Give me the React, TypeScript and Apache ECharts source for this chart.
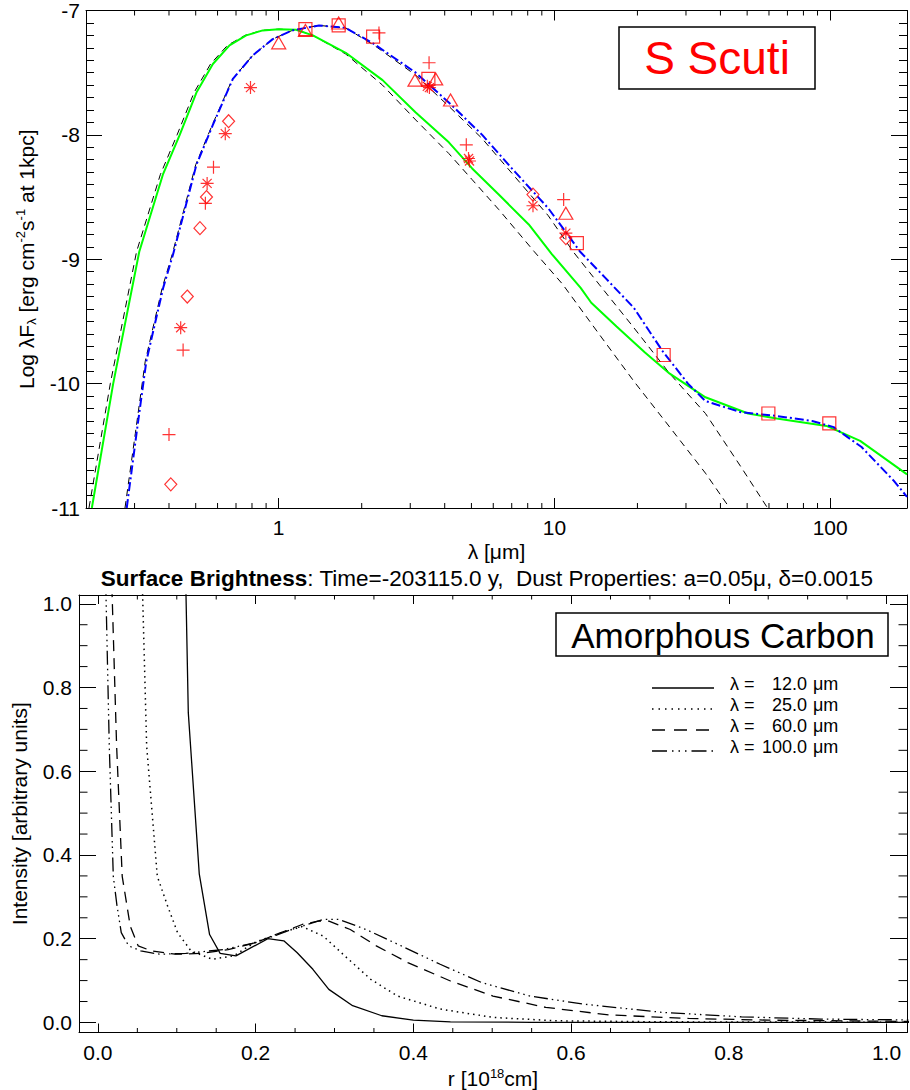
import React, { useEffect, useRef } from 'react';
import * as echarts from 'echarts';

const FONT = '"Liberation Sans", Arial, Helvetica, sans-serif';

// ---------------- Top panel: S Scuti spectral energy distribution ----------------
const sedXMinorTicks = [0.3, 0.4, 0.5, 0.6, 0.7, 0.8, 0.9, 2, 3, 4, 5, 6, 7, 8, 9, 20, 30, 40, 50, 60, 70, 80, 90];

// black dashed model (left, hotter photosphere)
const photosphereA: number[][] = [
  [0.205, -11.0], [0.245, -10.0], [0.305, -8.94], [0.372, -8.32], [0.428, -8.0], [0.493, -7.66],
  [0.566, -7.43], [0.652, -7.28], [0.755, -7.2], [0.87, -7.16], [1.0, -7.15], [1.156, -7.155],
  [1.33, -7.2], [1.75, -7.35], [2.38, -7.6], [3.14, -7.88], [4.14, -8.15], [5.03, -8.36],
  [6.28, -8.6], [8.46, -8.94], [10.7, -9.2], [14.5, -9.6], [19.4, -9.98], [26.2, -10.35],
  [35.3, -10.72], [43.2, -11.0], [50, -11.2],
];
// black dashed model (right, cooler photosphere)
const photosphereB: number[][] = [
  [0.277, -11.0], [0.302, -10.4], [0.328, -9.82], [0.378, -9.23], [0.411, -8.96], [0.5, -8.24],
  [0.574, -7.92], [0.68, -7.55], [0.806, -7.36], [0.951, -7.23], [1.12, -7.16], [1.4, -7.12],
  [1.75, -7.14], [2.22, -7.28], [3.14, -7.52], [4.14, -7.77], [5.47, -8.03], [7.21, -8.34],
  [9.5, -8.65], [11.7, -8.94], [14.5, -9.2], [19.4, -9.55], [26.2, -9.92], [35.3, -10.24],
  [47.5, -10.67], [59.3, -11.0], [70, -11.3],
];
// green solid model (star + dust)
const greenModel: number[][] = [
  [0.21, -11.0], [0.251, -10.0], [0.312, -8.94], [0.38, -8.32], [0.4375, -8.0], [0.503, -7.66],
  [0.577, -7.43], [0.663, -7.28], [0.762, -7.2], [0.875, -7.16], [1.0, -7.15], [1.156, -7.155],
  [1.33, -7.2], [1.75, -7.34], [2.38, -7.56], [3.14, -7.82], [4.14, -8.06], [5.03, -8.27],
  [6.28, -8.48], [8.07, -8.72], [9.8, -8.96], [12.45, -9.23], [13.6, -9.35], [16.8, -9.54],
  [21.3, -9.75], [26.2, -9.92], [35.3, -10.11], [50.4, -10.24], [64, -10.28], [97, -10.34],
  [128.5, -10.46], [190, -10.73],
];
// blue dash-dot model (star + dust)
const blueModel: number[][] = [
  [0.281, -11.0], [0.305, -10.4], [0.331, -9.82], [0.381, -9.23], [0.414, -8.96], [0.503, -8.24],
  [0.577, -7.92], [0.682, -7.55], [0.806, -7.36], [0.951, -7.23], [1.12, -7.16], [1.4, -7.12],
  [1.75, -7.14], [2.22, -7.27], [3.14, -7.5], [4.14, -7.74], [5.47, -8.0], [7.21, -8.3],
  [9.5, -8.59], [12.4, -8.94], [15.3, -9.15], [19.4, -9.39], [24.7, -9.74], [30.5, -10.0],
  [35.3, -10.14], [47.5, -10.23], [64, -10.26], [86, -10.3], [103, -10.35], [130, -10.51],
  [170, -10.78], [190, -10.91],
];

// observed photometry (red symbols)
const obsPlus: number[][] = [
  [2.31, -7.18], [0.58, -8.26], [0.542, -8.55], [0.45, -9.73], [0.4, -10.41],
  [3.51, -7.42], [4.79, -8.08], [10.8, -8.52],
];
const obsAsterisk: number[][] = [
  [0.79, -7.62], [0.64, -7.99], [0.55, -8.39], [0.441, -9.55], [3.46, -7.61], [3.52, -7.62],
  [4.88, -8.19], [4.92, -8.21], [8.36, -8.57], [11.0, -8.79],
];
const obsDiamond: number[][] = [
  [0.658, -7.89], [0.547, -8.5], [0.518, -8.75], [0.466, -9.3], [0.406, -10.81],
  [8.36, -8.48], [11.0, -8.83],
];
const obsTriangle: number[][] = [
  [1.0, -7.26], [1.25, -7.16], [1.65, -7.1], [3.12, -7.56], [3.71, -7.55], [4.2, -7.72], [11.0, -8.63],
];
const obsSquare: number[][] = [
  [1.25, -7.15], [1.65, -7.12], [2.2, -7.21], [3.49, -7.55], [12.06, -8.87], [24.9, -9.77],
  [59.7, -10.24], [99.3, -10.32],
];

// ---------------- Bottom panel: surface brightness profiles ----------------
const radiusMinorTicks = [0.05, 0.1, 0.15, 0.25, 0.3, 0.35, 0.45, 0.5, 0.55, 0.65, 0.7, 0.75, 0.85, 0.9, 0.95];
const intensityMinorTicks = [0.05, 0.1, 0.15, 0.25, 0.3, 0.35, 0.45, 0.5, 0.55, 0.65, 0.7, 0.75, 0.85, 0.9, 0.95];

const profile12: number[][] = [
  [0.1088, 1.3], [0.1146, 0.74], [0.1285, 0.355], [0.1416, 0.21], [0.155, 0.165], [0.175, 0.159],
  [0.2155, 0.2], [0.2357, 0.195], [0.2524, 0.167], [0.2726, 0.127], [0.2928, 0.079], [0.323, 0.04],
  [0.36, 0.016], [0.4, 0.0055], [0.447, 0.0015], [0.55, 0.0004], [1.03, 0.0001],
];
const profile25: number[][] = [
  [0.0527, 1.3], [0.0618, 0.66], [0.0753, 0.349], [0.088, 0.28], [0.101, 0.2145], [0.118, 0.171],
  [0.145, 0.151], [0.172, 0.159], [0.199, 0.191], [0.232, 0.2145], [0.259, 0.229], [0.286, 0.206],
  [0.313, 0.159], [0.346, 0.103], [0.38, 0.063], [0.434, 0.032], [0.501, 0.012], [0.581, 0.004],
  [0.716, 0.0015], [1.03, 0.0005],
];
const profile60: number[][] = [
  [0.0136, 1.3], [0.0237, 0.66], [0.0308, 0.349], [0.041, 0.23], [0.051, 0.183], [0.0678, 0.171],
  [0.098, 0.163], [0.1316, 0.165], [0.165, 0.174], [0.199, 0.19], [0.232, 0.2145], [0.259, 0.234],
  [0.279, 0.242], [0.293, 0.242], [0.32, 0.222], [0.353, 0.183], [0.393, 0.143], [0.447, 0.099],
  [0.501, 0.063], [0.568, 0.036], [0.648, 0.018], [0.749, 0.0095], [0.85, 0.0055], [1.03, 0.0024],
];
const profile100: number[][] = [
  [0.007, 1.3], [0.0144, 0.66], [0.0195, 0.349], [0.0241, 0.28], [0.0296, 0.2145], [0.039, 0.183],
  [0.0543, 0.171], [0.078, 0.163], [0.1114, 0.165], [0.1585, 0.174], [0.199, 0.19], [0.2457, 0.222],
  [0.286, 0.246], [0.306, 0.246], [0.34, 0.222], [0.38, 0.187], [0.434, 0.139], [0.487, 0.095],
  [0.548, 0.063], [0.615, 0.044], [0.716, 0.024], [0.816, 0.0134], [0.917, 0.008], [1.03, 0.006],
];
const legendWavelengths = ['12.0', '25.0', '60.0', '100.0'];

// ---------------- helpers ----------------
const BLACK = '#000';
const tickLine = { color: BLACK, width: 1 };

function minorTickSeries(xIdx: number, yIdx: number, values: number[], dir: 'x' | 'y', ref: number, len: number) {
  return {
    type: 'custom',
    xAxisIndex: xIdx,
    yAxisIndex: yIdx,
    silent: true,
    z: 6,
    data: values.map((v) => (dir === 'x' ? [v, ref] : [ref, v])),
    renderItem: (params: any, api: any) => {
      const cs = params.coordSys;
      const p = api.coord([api.value(0), api.value(1)]);
      const st = { stroke: BLACK, lineWidth: 1 };
      if (dir === 'x') {
        const b = cs.y + cs.height;
        return {
          type: 'group',
          children: [
            { type: 'line', shape: { x1: p[0], y1: b, x2: p[0], y2: b - len }, style: st },
            { type: 'line', shape: { x1: p[0], y1: cs.y, x2: p[0], y2: cs.y + len }, style: st },
          ],
        };
      }
      const r = cs.x + cs.width;
      return {
        type: 'group',
        children: [
          { type: 'line', shape: { x1: cs.x, y1: p[1], x2: cs.x + len, y2: p[1] }, style: st },
          { type: 'line', shape: { x1: r, y1: p[1], x2: r - len, y2: p[1] }, style: st },
        ],
      };
    },
  };
}

const labelStyle = { color: BLACK, fontFamily: FONT, fontSize: 21 };

const isMultiple = (v: number, step: number) => Math.abs(v / step - Math.round(v / step)) < 1e-6;

const PLUS = 'path://M5,0L5,10M0,5L10,5';
const ASTER = 'path://M5,0L5,10M0,5L10,5M1.5,1.5L8.5,8.5M1.5,8.5L8.5,1.5';

function scatter(data: number[][], symbol: string, size: number | number[]) {
  return {
    type: 'scatter',
    xAxisIndex: 0,
    yAxisIndex: 0,
    data,
    symbol,
    symbolSize: size,
    itemStyle: { color: 'rgba(0,0,0,0)', borderColor: '#ff0000', borderWidth: 1.2 },
    z: 4,
  };
}

function line(xIdx: number, yIdx: number, data: number[][], color: string, width: number, type: any) {
  return {
    type: 'line',
    xAxisIndex: xIdx,
    yAxisIndex: yIdx,
    data,
    showSymbol: false,
    symbol: 'none',
    clip: true,
    lineStyle: { color, width, type },
    z: 3,
  };
}

export default function App() {
  const ref = useRef<HTMLDivElement>(null);

  useEffect(() => {
    if (!ref.current) return;
    const chart = echarts.init(ref.current, undefined, { renderer: 'svg' });

    const legendRows = [684, 705, 726, 747];
    const legendDashes: any[] = [null, [1.5, 5], [13, 9], [15, 5, 1.5, 5, 1.5, 5, 1.5, 5]];
    const legendEls: any[] = [];
    legendWavelengths.forEach((w, i) => {
      const y = legendRows[i];
      legendEls.push({
        type: 'line',
        shape: { x1: 652, y1: y + 4, x2: 714, y2: y + 4 },
        style: { stroke: BLACK, lineWidth: 1.3, lineDash: legendDashes[i] },
      });
      legendEls.push({
        type: 'text', x: 730, y,
        style: { text: 'λ =', font: `18px ${FONT}`, fill: BLACK, textAlign: 'left', textVerticalAlign: 'middle' },
      });
      legendEls.push({
        type: 'text', x: 807, y,
        style: { text: w, font: `18px ${FONT}`, fill: BLACK, textAlign: 'right', textVerticalAlign: 'middle' },
      });
      legendEls.push({
        type: 'text', x: 813, y,
        style: { text: 'μm', font: `18px ${FONT}`, fill: BLACK, textAlign: 'left', textVerticalAlign: 'middle' },
      });
    });

    const option: any = {
      animation: false,
      backgroundColor: '#fff',
      grid: [
        { left: 86, top: 8, width: 822, height: 500 },
        { left: 79, top: 595, width: 829, height: 438 },
      ],
      xAxis: [
        {
          type: 'log', logBase: 10, gridIndex: 0, min: 0.2, max: 190, position: 'bottom',
          axisLine: { show: true, onZero: false, lineStyle: tickLine },
          axisTick: { show: true, inside: true, length: 10, lineStyle: tickLine },
          splitLine: { show: false },
          axisLabel: {
            ...labelStyle, margin: 9,
            formatter: (v: number) => {
              const l = Math.log10(v);
              return Math.abs(l - Math.round(l)) < 1e-6 ? String(Math.round(v)) : '';
            },
          },
          name: 'λ [μm]', nameLocation: 'middle', nameGap: 33,
          nameTextStyle: { ...labelStyle },
        },
        {
          type: 'log', logBase: 10, gridIndex: 0, min: 0.2, max: 190, position: 'top',
          axisLine: { show: true, onZero: false, lineStyle: tickLine },
          axisTick: { show: true, inside: true, length: 10, lineStyle: tickLine },
          splitLine: { show: false }, axisLabel: { show: false },
        },
        {
          type: 'value', gridIndex: 1, min: -0.024, max: 1.026, minInterval: 0.2, maxInterval: 0.2, splitNumber: 5,
          position: 'bottom',
          axisLine: { show: true, onZero: false, lineStyle: tickLine },
          axisTick: { show: true, inside: true, length: 9, lineStyle: tickLine },
          splitLine: { show: false },
          axisLabel: {
            ...labelStyle, margin: 9,
            formatter: (v: number) => (isMultiple(v, 0.2) ? (Math.abs(v) < 1e-9 ? 0 : v).toFixed(1) : ''),
          },
          name: '{n|r [10}{sup|18}{n|cm]}', nameLocation: 'middle', nameGap: 34,
          nameTextStyle: {
            ...labelStyle,
            rich: {
              n: { ...labelStyle, lineHeight: 24 },
              sup: { color: BLACK, fontFamily: FONT, fontSize: 13, verticalAlign: 'top' },
            },
          },
        },
        {
          type: 'value', gridIndex: 1, min: -0.024, max: 1.026, minInterval: 0.2, maxInterval: 0.2, splitNumber: 5,
          position: 'top',
          axisLine: { show: true, onZero: false, lineStyle: tickLine },
          axisTick: { show: true, inside: true, length: 9, lineStyle: tickLine },
          splitLine: { show: false }, axisLabel: { show: false },
        },
      ],
      yAxis: [
        {
          type: 'value', gridIndex: 0, min: -11, max: -7, interval: 1, position: 'left',
          axisLine: { show: true, onZero: false, lineStyle: tickLine },
          axisTick: { show: true, inside: true, length: 16, lineStyle: tickLine },
          minorTick: { show: true, splitNumber: 10, length: 8, lineStyle: tickLine },
          splitLine: { show: false }, minorSplitLine: { show: false },
          axisLabel: { ...labelStyle, margin: 6 },
          name: '{n|Log λF}{sub|λ}{n| [erg cm}{sup|-2}{n|s}{sup|-1}{n| at 1kpc]}',
          nameLocation: 'middle', nameGap: 48, nameRotate: 90,
          nameTextStyle: {
            ...labelStyle,
            rich: {
              n: { ...labelStyle, lineHeight: 24 },
              sup: { color: BLACK, fontFamily: FONT, fontSize: 13, verticalAlign: 'top' },
              sub: { color: BLACK, fontFamily: FONT, fontSize: 13, verticalAlign: 'bottom' },
            },
          },
        },
        {
          type: 'value', gridIndex: 0, min: -11, max: -7, interval: 1, position: 'right',
          axisLine: { show: true, onZero: false, lineStyle: tickLine },
          axisTick: { show: true, inside: true, length: 16, lineStyle: tickLine },
          minorTick: { show: true, splitNumber: 10, length: 8, lineStyle: tickLine },
          splitLine: { show: false }, minorSplitLine: { show: false }, axisLabel: { show: false },
        },
        {
          type: 'value', gridIndex: 1, min: -0.024, max: 1.021, minInterval: 0.2, maxInterval: 0.2, splitNumber: 5,
          position: 'left',
          axisLine: { show: true, onZero: false, lineStyle: tickLine },
          axisTick: { show: true, inside: true, length: 17, lineStyle: tickLine },
          splitLine: { show: false },
          axisLabel: {
            ...labelStyle, margin: 7,
            formatter: (v: number) => (isMultiple(v, 0.2) ? (Math.abs(v) < 1e-9 ? 0 : v).toFixed(1) : ''),
          },
          name: 'Intensity [arbitrary units]', nameLocation: 'middle', nameGap: 49, nameRotate: 90,
          nameTextStyle: { ...labelStyle },
        },
        {
          type: 'value', gridIndex: 1, min: -0.024, max: 1.021, minInterval: 0.2, maxInterval: 0.2, splitNumber: 5,
          position: 'right',
          axisLine: { show: true, onZero: false, lineStyle: tickLine },
          axisTick: { show: true, inside: true, length: 17, lineStyle: tickLine },
          splitLine: { show: false }, axisLabel: { show: false },
        },
      ],
      series: [
        line(0, 0, photosphereA, BLACK, 1, [7, 5]),
        line(0, 0, photosphereB, BLACK, 1, [7, 5]),
        line(0, 0, greenModel, '#00ff00', 2, 'solid'),
        line(0, 0, blueModel, '#0000ff', 2, [9, 3, 2, 3]),
        scatter(obsPlus, PLUS, 13),
        scatter(obsAsterisk, ASTER, 13),
        scatter(obsDiamond, 'diamond', [12, 13]),
        scatter(obsTriangle, 'triangle', [14, 12]),
        scatter(obsSquare, 'rect', 13),
        minorTickSeries(0, 0, sedXMinorTicks, 'x', -9, 5),
        line(2, 2, profile12, BLACK, 1.3, 'solid'),
        line(2, 2, profile25, BLACK, 1.5, [1.5, 4]),
        line(2, 2, profile60, BLACK, 1.3, [11, 7]),
        line(2, 2, profile100, BLACK, 1.3, [14, 4, 1.5, 4, 1.5, 4, 1.5, 4]),
        minorTickSeries(2, 2, radiusMinorTicks, 'x', 0.5, 4.5),
        minorTickSeries(2, 2, intensityMinorTicks, 'y', 0.5, 8.5),
      ],
      graphic: {
        elements: [
          {
            type: 'rect', z: 100, shape: { x: 619, y: 27, width: 196, height: 62 },
            style: { fill: 'rgba(0,0,0,0)', stroke: BLACK, lineWidth: 1.5 },
          },
          {
            type: 'text', z: 100, x: 717, y: 58,
            style: { text: 'S Scuti', font: `46px ${FONT}`, fill: '#ff0000', textAlign: 'center', textVerticalAlign: 'middle' },
          },
          {
            type: 'rect', z: 100, shape: { x: 556, y: 613, width: 332, height: 43 },
            style: { fill: 'rgba(0,0,0,0)', stroke: BLACK, lineWidth: 1.5 },
          },
          {
            type: 'text', z: 100, x: 723, y: 635,
            style: { text: 'Amorphous Carbon', font: `35px ${FONT}`, fill: BLACK, textAlign: 'center', textVerticalAlign: 'middle' },
          },
          {
            type: 'text', z: 100, x: 487, y: 578,
            style: {
              text: '{b|Surface Brightness}: Time=-203115.0 y,  Dust Properties: a=0.05μ, δ=0.0015',
              font: `22.5px ${FONT}`, fill: BLACK, textAlign: 'center', textVerticalAlign: 'middle',
              rich: { b: { fontWeight: 'bold', fontSize: 22.5, fontFamily: FONT, fill: BLACK, color: BLACK } },
            },
          },
          ...legendEls,
        ],
      },
    };

    chart.setOption(option);
    return () => chart.dispose();
  }, []);

  return <div ref={ref} style={{ position: 'absolute', left: 0, top: 0, width: 910, height: 1090 }} />;
}
